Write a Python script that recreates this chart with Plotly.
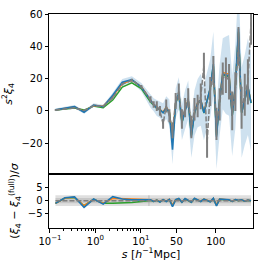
import numpy as np
import plotly.graph_objects as go
from plotly.subplots import make_subplots

# ---------------- data ----------------
s_vals = [0.132, 0.214, 0.347, 0.562, 0.912, 1.48, 2.40, 3.89, 6.31, 10.2,
          17, 21, 25, 29, 33, 37, 41, 45, 49, 53, 57, 61, 65, 69, 73, 77, 81,
          85, 89, 93, 97, 101, 105, 109, 113, 117, 121, 125, 129, 133, 137, 141, 145]

xi_blue = [0.6, 1.6, 2.6, -0.8, 3.6, 2.6, 9.7, 17.8, 19.4, 14.7,
           6, 3.8, 1.8, 0.8, -1.2, 2, -1, -24, 4.8, 10.9, -7, 0.8, 6.8, -16, -1.2,
           4.8, 6.8, -1.2, 6.8, 14, 29, -16, 6.8, 23, 22, 22, -3, 15, 51, -1, 6.8, 15, 5]
xi_orange = [0.6, 1.5, 2.5, -0.5, 3.4, 2.8, 9.0, 17.0, 19.0, 15.0,
             6.2, 4.0, 2.0, 1.0, -0.8, 2.4, -0.5, -18, 5.2, 10.2, -6, 1.2, 7.2, -14, -0.8,
             5.2, 7.0, -0.6, 7.2, 13.5, 27, -14, 7.2, 24, 23, 23, -2, 15.5, 48, -0.5, 7.2, 14.5, 5.5]
xi_green = [0.6, 1.2, 1.8, 0.5, 3.0, 2.0, 6.7, 14.7, 17.4, 13.8,
            5.5, 3.5, 1.5, 0.6, -1.0, 1.8, -1.2, -18, 4.5, 10.5, -7.5, 0.6, 6.5, -15, -1.5,
            4.5, 6.5, -1.4, 6.5, 13.8, 28, -15, 6.5, 22.5, 21.5, 21.5, -3.2, 14.5, 49, -1.2, 6.5, 14.8, 4.8]
xi_gray = [0.5, 1.2, 1.8, 0.3, 3.0, 3.0, 8.0, 16.5, 19.0, 15.0,
           7, 4, 3, 0, -8, 3, -3, -12, 6, 12, -5, 2, 8, -10, 1,
           3, 9, 28, -20, 12, 25, -8, 4, 20, 22, 18, 0, 12, 40, 2, 10, 18, 55]
err_gray = [0.3, 0.3, 0.4, 0.4, 0.5, 0.5, 0.7, 0.8, 0.9, 1.0,
            2, 2, 3, 3, 3, 4, 4, 5, 5, 5, 6, 6, 6, 7, 7,
            7, 8, 8, 9, 9, 9, 10, 10, 10, 11, 11, 12, 12, 12, 13, 13, 14, 14]
sigma_band = [0.8, 0.8, 1.0, 1.0, 1.2, 1.2, 1.5, 2.0, 2.0, 2.5,
              4, 4, 5, 5, 6, 7, 8, 9, 9, 10, 11, 12, 12, 13, 14,
              15, 16, 17, 18, 18, 20, 20, 22, 22, 24, 25, 25, 26, 27, 28, 28, 30, 30]

dev_blue = [-1.0, 1.1, 1.4, -2.5, 0.6, -1.3, 1.5, 0.6, 0.3, 0.2,
            0.3, -0.3, 0.2, -0.5, 0.4, -0.3, 0.5, -2.3, 0.4, 0.8, -0.6, 0.8, 0.2, -0.6, 0.9,
            0.2, -0.3, 0.6, 0.2, -0.4, 0.9, -2.0, 0.6, 0.5, 0.6, 0.3, -0.3, 0.4, 0.1, 0.3, -0.2, 0.2, 0.0]
dev_orange = [-1.0, 1.0, 1.3, -1.9, 0.5, -1.0, 0.9, 0.7, 0.6, 0.4,
              0.3, -0.2, 0.2, -0.4, 0.4, -0.2, 0.5, -1.8, 0.4, 0.7, -0.5, 0.7, 0.2, -0.5, 0.8,
              0.2, -0.2, 0.6, 0.2, -0.3, 0.8, -1.6, 0.6, 0.5, 0.6, 0.3, -0.2, 0.4, 0.1, 0.3, -0.2, 0.2, 0.0]
dev_green = [-1.0, 1.0, 1.2, -1.9, 0.5, -1.0, -1.0, -0.9, -0.7, -0.3,
             0.1, -0.3, 0.1, -0.5, 0.3, -0.3, 0.3, -1.8, 0.3, 0.6, -0.6, 0.6, 0.1, -0.6, 0.7,
             0.1, -0.3, 0.5, 0.1, -0.4, 0.7, -1.7, 0.5, 0.4, 0.5, 0.2, -0.3, 0.3, 0.0, 0.2, -0.2, 0.1, 0.0]
dev_gray = [0.0] * len(s_vals)

major_tick_s = [0.1, 1, 10, 50, 100]
major_tick_text = ["10<sup>−1</sup>", "10<sup>0</sup>", "10<sup>1</sup>", "50", "100"]
minor_tick_s = [0.2, 0.3, 0.4, 0.5, 0.6, 0.7, 0.8, 0.9, 2, 3, 4, 5, 6, 7, 8, 9]

# ---------------- scale: log below 15, linear above ----------------
S_SWITCH = 15.0
LIN_SLOPE = 0.01726  # decades per unit of s above the switch


def xform(s):
    s = np.asarray(s, dtype=float)
    return np.where(s <= S_SWITCH, np.log10(s),
                    np.log10(S_SWITCH) + (s - S_SWITCH) * LIN_SLOPE)


X = xform(s_vals)
blue = "#1f77b4"
orange = "#ff7f0e"
green = "#2ca02c"
grey = "#7f7f7f"

fig = make_subplots(rows=2, cols=1, shared_xaxes=True, vertical_spacing=0,
                    row_heights=[0.747, 0.253])

upper = np.array(xi_blue) + np.array(sigma_band)
lower = np.array(xi_blue) - np.array(sigma_band)
fig.add_trace(go.Scatter(x=X, y=lower, mode="lines", line=dict(width=0, color=blue),
                         showlegend=False, hoverinfo="skip"), row=1, col=1)
fig.add_trace(go.Scatter(x=X, y=upper, mode="lines", line=dict(width=0, color=blue),
                         fill="tonexty", fillcolor="rgba(31,119,180,0.22)",
                         showlegend=False, hoverinfo="skip"), row=1, col=1)

fig.add_trace(go.Scatter(x=X, y=xi_green, mode="lines", line=dict(color=green, width=1.5),
                         showlegend=False), row=1, col=1)
fig.add_trace(go.Scatter(x=X, y=xi_orange, mode="lines", line=dict(color=orange, width=1.5),
                         showlegend=False), row=1, col=1)
fig.add_trace(go.Scatter(x=X, y=xi_blue, mode="lines", line=dict(color=blue, width=1.6),
                         showlegend=False), row=1, col=1)
fig.add_trace(go.Scatter(x=X, y=xi_gray, mode="lines", line=dict(color=grey, width=1.5, dash="5px,2px"),
                         error_y=dict(type="data", array=err_gray, color=grey, thickness=2, width=0),
                         showlegend=False), row=1, col=1)

# bottom panel
x_lo, x_hi = float(X[0]), float(X[-1])
fig.add_shape(type="rect", x0=x_lo, x1=x_hi, y0=-2, y1=2, fillcolor="rgba(128,128,128,0.25)",
              line=dict(width=0), layer="below", row=2, col=1)
fig.add_shape(type="rect", x0=x_lo, x1=x_hi, y0=-1, y1=1, fillcolor="rgba(128,128,128,0.25)",
              line=dict(width=0), layer="below", row=2, col=1)
xs = float(xform([S_SWITCH])[0])
fig.add_shape(type="line", x0=xs, x1=xs, y0=-2, y1=2, line=dict(color="rgba(150,150,150,0.5)", width=1),
              row=2, col=1)

fig.add_trace(go.Scatter(x=X, y=dev_green, mode="lines", line=dict(color=green, width=1.5),
                         showlegend=False), row=2, col=1)
fig.add_trace(go.Scatter(x=X, y=dev_orange, mode="lines", line=dict(color=orange, width=1.5),
                         showlegend=False), row=2, col=1)
fig.add_trace(go.Scatter(x=X, y=dev_blue, mode="lines", line=dict(color=blue, width=1.6),
                         showlegend=False), row=2, col=1)
fig.add_trace(go.Scatter(x=X, y=dev_gray, mode="lines", line=dict(color=grey, width=1.5, dash="5px,2px"),
                         showlegend=False), row=2, col=1)

font = "DejaVu Sans"
axis_common = dict(showline=True, linecolor="black", linewidth=1, mirror=True,
                   showgrid=False, zeroline=False)
xrange_ = [-1.021, 3.463]

fig.update_xaxes(range=xrange_, **axis_common)
fig.update_xaxes(row=1, col=1, ticks="", showticklabels=False)
fig.update_xaxes(row=2, col=1, ticks="outside", ticklen=3.5, tickcolor="black",
                 tickmode="array", tickvals=list(xform(major_tick_s)), ticktext=major_tick_text,
                 tickfont=dict(family=font, size=10, color="black"),
                 minor=dict(tickmode="array", tickvals=list(xform(minor_tick_s)), ticklen=2,
                            tickcolor="black", ticks="outside", showgrid=False),
                 title=dict(text="<i>s</i> [<i>h</i><sup>−1</sup>Mpc]",
                            font=dict(family=font, size=11, color="black"), standoff=4))

fig.update_yaxes(row=1, col=1, range=[-39, 60], tickvals=[-20, 0, 20, 40, 60],
                 ticks="outside", ticklen=3.5, tickcolor="black",
                 tickfont=dict(family=font, size=10, color="black"),
                 title=dict(text="<i>s</i><sup>2</sup><i>ξ</i><sub>4</sub>",
                            font=dict(family=font, size=11, color="black"), standoff=6),
                 **{**axis_common, "mirror": "ticks"})
fig.update_yaxes(row=2, col=1, range=[-10.3, 10.1], tickvals=[-5, 0, 5],
                 ticks="outside", ticklen=3.5, tickcolor="black",
                 tickfont=dict(family=font, size=10, color="black"),
                 title=dict(text="(<i>ξ</i><sub>4</sub> − <i>ξ</i><sub>4</sub><sup>(full)</sup>)/<i>σ</i>",
                            font=dict(family=font, size=11, color="black"), standoff=6),
                 **{**axis_common, "mirror": "ticks"})

fig.update_layout(width=266, height=266, margin=dict(l=45, r=8, t=8, b=37),
                  plot_bgcolor="white", paper_bgcolor="white", showlegend=False,
                  font=dict(family=font, color="black"))

fig.write_html("out.html", config={"displayModeBar": False, "staticPlot": True},
               post_script="document.body.style.margin='0';document.body.style.overflow='hidden';")
